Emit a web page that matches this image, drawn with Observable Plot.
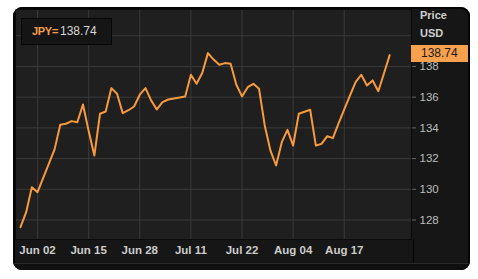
<!DOCTYPE html>
<html>
<head>
<meta charset="utf-8">
<script src="https://cdn.jsdelivr.net/npm/d3@7"></script>
<script src="https://cdn.jsdelivr.net/npm/@observablehq/plot@0.6"></script>
<style>
  html, body { margin: 0; padding: 0; background: #ffffff; }
  body { width: 478px; height: 279px; position: relative; overflow: hidden; font-family: "Liberation Sans", Arial, sans-serif; }
  #panel { position: absolute; left: 13px; top: 7px; width: 457px; height: 263px; background: #161616; border-radius: 9px; overflow: hidden; box-shadow: inset 0 0 0 2px #050505; }
  #chart { position: absolute; left: 0; top: 0; }
  #bottomstrip { position: absolute; left: 0; top: 256px; width: 457px; height: 7px; background: #101010; border-top: 1px solid #2a2a2a; }
  #sep { position: absolute; left: 400px; top: 232px; width: 1px; height: 24px; background: #050505; }
  #legend { position: absolute; left: 21px; top: 18px; width: 89px; height: 25px; background: #151515; border: 1px solid #060606; line-height: 25px; white-space: nowrap; }
  #legend .k { position: absolute; left: 10px; color: #f59e49; font-weight: bold; font-size: 11px; letter-spacing: -0.3px; }
  #legend .v { position: absolute; left: 38px; color: #d6d6d6; font-size: 12px; }
  .hdr { position: absolute; left: 420px; color: #cfcfcf; font-weight: bold; font-size: 11px; }
  #lastbox { position: absolute; left: 411px; top: 45px; width: 57px; height: 17px; background: #f7a04d; color: #1a1a1a; font-size: 12px; line-height: 17px; }
  #lastbox span { position: absolute; left: 10px; }
</style>
</head>
<body>
<div id="panel">
  <div id="chart"></div>
  <div id="sep"></div>
  <div id="bottomstrip"></div>
</div>
<div id="legend"><span class="k">JPY=</span><span class="v">138.74</span></div>
<div class="hdr" style="top:9px">Price</div>
<div class="hdr" style="top:27px">USD</div>
<div id="lastbox"><span>138.74</span></div>
<script>
// Daily JPY= closes (trading days), starting 3 trading days before Jun 02
const prices = [
  127.53, 128.51, 130.14, 129.81, 130.74, 131.67, 132.60, 134.20, 134.27, 134.44,
  134.37, 135.52, 133.80, 132.20, 134.92, 135.07, 136.59, 136.22, 134.96, 135.15,
  135.39, 136.16, 136.59, 135.79, 135.20, 135.68, 135.85, 135.92, 135.98, 136.05,
  137.46, 136.87, 137.57, 138.87, 138.45, 138.11, 138.22, 138.17, 136.81, 136.05,
  136.65, 136.87, 136.55, 134.16, 132.53, 131.55, 133.07, 133.87, 132.85, 134.92,
  135.05, 135.18, 132.85, 132.96, 133.46, 133.33, 134.30, 135.20, 136.10, 136.98,
  137.46, 136.76, 137.09, 136.39, 137.56, 138.74
];
const tickIdx = [3, 12, 21, 30, 39, 48, 57];
const tickLabels = ["Jun 02", "Jun 15", "Jun 28", "Jul 11", "Jul 22", "Aug 04", "Aug 17"];
const yTicks = [128, 130, 132, 134, 136, 138];
const yGrid = [128, 130, 132, 134, 136, 138, 140];

const data = prices.map((p, i) => ({i, p}));

const chart = Plot.plot({
  width: 457,
  height: 263,
  marginLeft: 2,
  marginTop: 2,
  marginRight: 59,
  marginBottom: 31,
  style: {background: "transparent", fontFamily: "'Liberation Sans', Arial, sans-serif"},
  x: {domain: [-0.88, 68.84]},
  y: {domain: [126.73, 141.71]},
  marks: [
    Plot.frame({fill: "#1f1f1f"}),
    Plot.gridX(tickIdx, {stroke: "#3a3a3a", strokeOpacity: 1}),
    Plot.gridY(yGrid, {stroke: "#3a3a3a", strokeOpacity: 1}),
    Plot.frame({stroke: "#0a0a0a"}),
    Plot.axisX(tickIdx, {
      tickSize: 0, tickPadding: 6, label: null,
      tickFormat: d => tickLabels[tickIdx.indexOf(d)],
      fontWeight: "bold", fontSize: 11.5, fill: "#cccccc"
    }),
    Plot.axisY(yTicks, {
      anchor: "right", tickSize: 4, tickPadding: 4, label: null,
      fontSize: 11.5, color: "#bdbdbd", stroke: "#666"
    }),
    Plot.line(data, {x: "i", y: "p", stroke: "#f79a3e", strokeWidth: 2})
  ]
});
document.getElementById("chart").appendChild(chart);
</script>
</body>
</html>
